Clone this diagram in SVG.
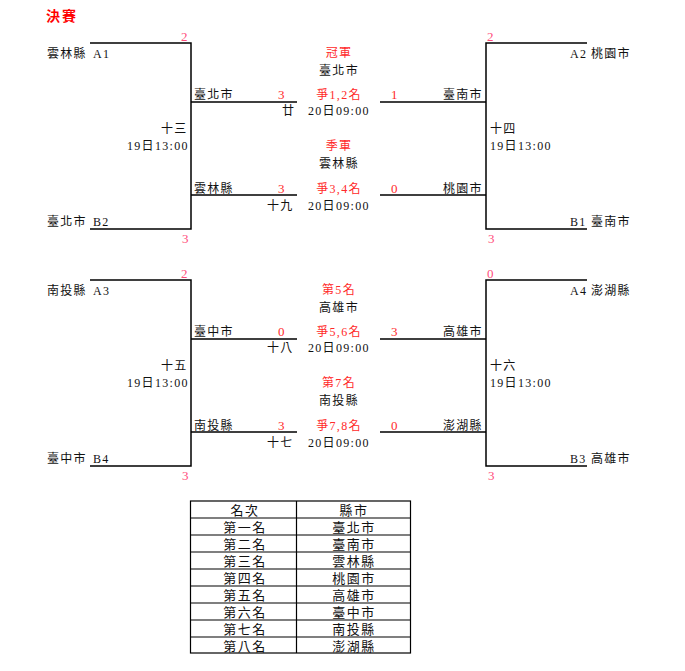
<svg xmlns="http://www.w3.org/2000/svg" width="685" height="671" viewBox="0 0 685 671">
<style>
.t{font-family:"Liberation Serif","Noto Sans CJK TC",serif;font-size:12px;letter-spacing:1.3px;fill:#111}
.r{fill:#FF2A2A}
.p{fill:#FF4D7A;font-size:13px}
.s{font-size:13px}
.m{text-anchor:middle}
.ln{fill:none;stroke:#000;stroke-width:1.5}
.tb{font-family:"Liberation Serif","Noto Sans CJK TC",serif;font-size:13px;letter-spacing:1.5px;fill:#111;text-anchor:middle}
.title{font-family:"Noto Sans CJK TC",sans-serif;font-size:14px;font-weight:bold;letter-spacing:2px;fill:#FF0000}
</style>
<rect width="685" height="671" fill="#fff"/>
<text class="title" x="46" y="21">決賽</text>

<g id="connectors">
<path class="ln" d="M90 43H191V229H90M191 102H297M191 195H297"/>
<path class="ln" d="M587 43H486V229H587M486 102H380M486 195H380"/>
<path class="ln" d="M90 280H191V466H90M191 339H297M191 432H297"/>
<path class="ln" d="M587 280H486V466H587M486 339H380M486 432H380"/>
</g>

<g id="match-13">
<text class="t p" x="181" y="41">2</text>
<text class="t" x="47" y="58">雲林縣</text><text class="t" x="93" y="58">A1</text>
<text class="t" x="161" y="133">十三</text>
<text class="t" x="127" y="150">19日13:00</text>
<text class="t" x="47" y="226">臺北市</text><text class="t" x="93" y="226">B2</text>
<text class="t p" x="182" y="243">3</text>
</g>

<g id="match-14">
<text class="t p" x="487" y="41">2</text>
<text class="t" x="570" y="58">A2</text><text class="t" x="591" y="58">桃園市</text>
<text class="t" x="490" y="133">十四</text>
<text class="t" x="490" y="150">19日13:00</text>
<text class="t" x="570" y="226">B1</text><text class="t" x="591" y="226">臺南市</text>
<text class="t p" x="488" y="243">3</text>
</g>

<g id="match-20">
<text class="t r m" x="339" y="57">冠軍</text>
<text class="t m" x="339" y="75">臺北市</text>
<text class="t" x="194" y="99">臺北市</text>
<text class="t r s" x="278" y="99">3</text>
<text class="t r m" x="339" y="99">爭1,2名</text>
<text class="t r s" x="391" y="99">1</text>
<text class="t" x="443" y="99">臺南市</text>
<text class="t" x="282" y="115">廿</text>
<text class="t" x="308" y="115">20日09:00</text>
</g>

<g id="match-19">
<text class="t r m" x="339" y="150">季軍</text>
<text class="t m" x="339" y="168">雲林縣</text>
<text class="t" x="194" y="193">雲林縣</text>
<text class="t r s" x="278" y="193">3</text>
<text class="t r m" x="339" y="193">爭3,4名</text>
<text class="t r s" x="391" y="193">0</text>
<text class="t" x="443" y="193">桃園市</text>
<text class="t" x="267" y="210">十九</text>
<text class="t" x="308" y="210">20日09:00</text>
</g>

<g id="match-15">
<text class="t p" x="181" y="278">2</text>
<text class="t" x="47" y="295">南投縣</text><text class="t" x="93" y="295">A3</text>
<text class="t" x="161" y="370">十五</text>
<text class="t" x="127" y="387">19日13:00</text>
<text class="t" x="47" y="463">臺中市</text><text class="t" x="93" y="463">B4</text>
<text class="t p" x="182" y="480">3</text>
</g>

<g id="match-16">
<text class="t p" x="487" y="278">0</text>
<text class="t" x="570" y="295">A4</text><text class="t" x="591" y="295">澎湖縣</text>
<text class="t" x="490" y="370">十六</text>
<text class="t" x="490" y="387">19日13:00</text>
<text class="t" x="570" y="463">B3</text><text class="t" x="591" y="463">高雄市</text>
<text class="t p" x="488" y="480">3</text>
</g>

<g id="match-18">
<text class="t r m" x="339" y="294">第5名</text>
<text class="t m" x="339" y="312">高雄市</text>
<text class="t" x="194" y="336">臺中市</text>
<text class="t r s" x="278" y="336">0</text>
<text class="t r m" x="339" y="336">爭5,6名</text>
<text class="t r s" x="391" y="336">3</text>
<text class="t" x="443" y="336">高雄市</text>
<text class="t" x="267" y="352">十八</text>
<text class="t" x="308" y="352">20日09:00</text>
</g>

<g id="match-17">
<text class="t r m" x="339" y="387">第7名</text>
<text class="t m" x="339" y="405">南投縣</text>
<text class="t" x="194" y="430">南投縣</text>
<text class="t r s" x="278" y="430">3</text>
<text class="t r m" x="339" y="430">爭7,8名</text>
<text class="t r s" x="391" y="430">0</text>
<text class="t" x="443" y="430">澎湖縣</text>
<text class="t" x="267" y="447">十七</text>
<text class="t" x="308" y="447">20日09:00</text>
</g>

<g id="ranking-table">
<rect x="190.5" y="501" width="220" height="152" fill="none" stroke="#000" stroke-width="1.2"/>
<path fill="none" stroke="#000" stroke-width="1.2" d="M296.5 501V653M190.5 518H410.5M190.5 535H410.5M190.5 552H410.5M190.5 569H410.5M190.5 586H410.5M190.5 603H410.5M190.5 620H410.5M190.5 637H410.5"/>
<text class="tb" x="245" y="515">名次</text><text class="tb" x="354" y="515">縣市</text>
<text class="tb" x="245" y="532">第一名</text><text class="tb" x="354" y="532">臺北市</text>
<text class="tb" x="245" y="549">第二名</text><text class="tb" x="354" y="549">臺南市</text>
<text class="tb" x="245" y="566">第三名</text><text class="tb" x="354" y="566">雲林縣</text>
<text class="tb" x="245" y="583">第四名</text><text class="tb" x="354" y="583">桃園市</text>
<text class="tb" x="245" y="600">第五名</text><text class="tb" x="354" y="600">高雄市</text>
<text class="tb" x="245" y="617">第六名</text><text class="tb" x="354" y="617">臺中市</text>
<text class="tb" x="245" y="634">第七名</text><text class="tb" x="354" y="634">南投縣</text>
<text class="tb" x="245" y="651">第八名</text><text class="tb" x="354" y="651">澎湖縣</text>
</g>
</svg>
